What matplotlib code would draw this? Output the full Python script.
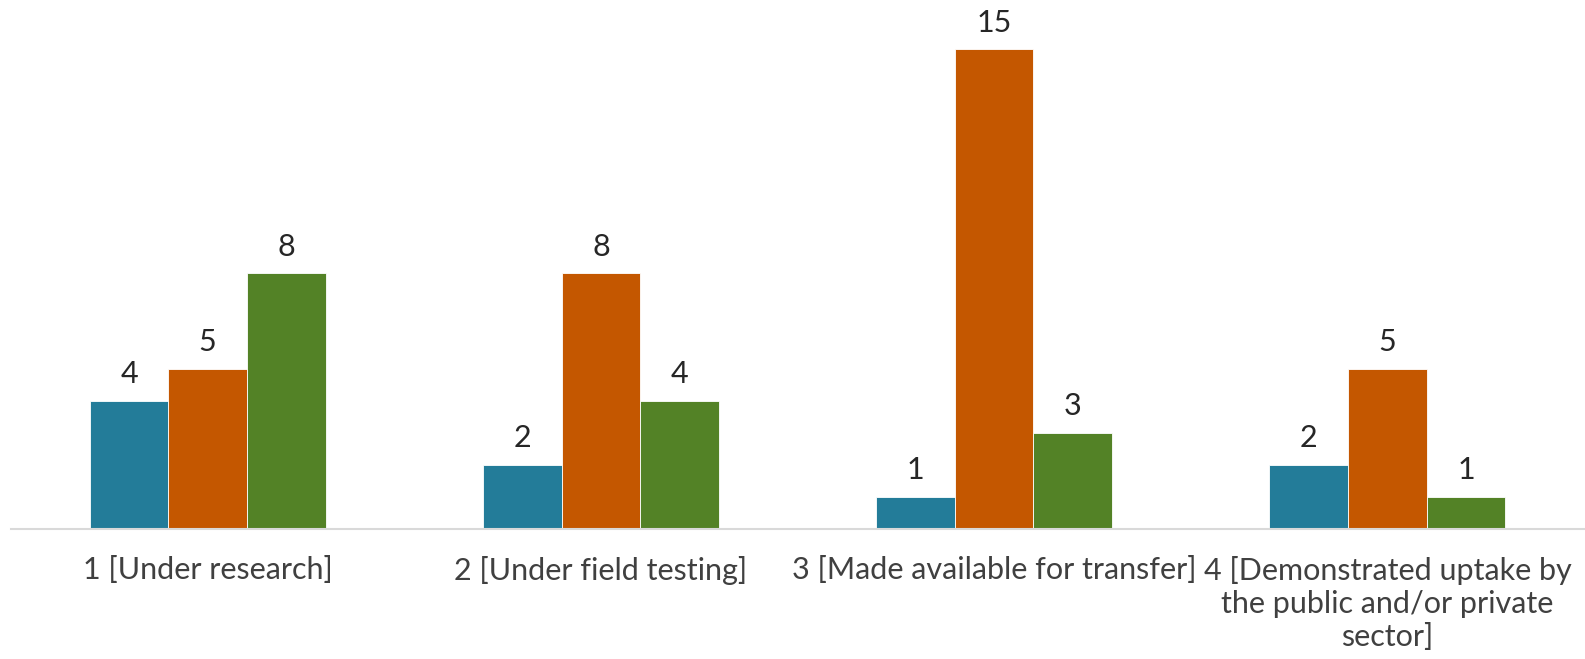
import matplotlib
matplotlib.use("Agg")
import matplotlib.pyplot as plt
import numpy as np

categories = ["1 [Under research]", "2 [Under field testing]",
              "3 [Made available for transfer]",
              "4 [Demonstrated uptake by\nthe public and/or private\nsector]"]
series_a = [4, 2, 1, 2]
series_b = [5, 8, 15, 5]
series_c = [8, 4, 3, 1]
colors = ["#237C99", "#C45700", "#538226"]

plt.rcParams['font.family'] = ['Lato', 'DejaVu Sans']

W, H = 1585, 659
fig = plt.figure(figsize=(W / 100, H / 100), dpi=100)
base_px = 528.7
ax = fig.add_axes([11 / W, 1 - base_px / H, (1584 - 11) / W, base_px / H])

x = np.arange(len(categories))
bw = 0.2
for i, (vals, c) in enumerate(zip([series_a, series_b, series_c], colors)):
    bars = ax.bar(x + (i - 1) * bw, vals, width=bw, color=c,
                  edgecolor="white", linewidth=0.6, zorder=2)
    for b, v in zip(bars, vals):
        ax.annotate(str(v), (b.get_x() + b.get_width() / 2, v),
                    xytext=(0, 9), textcoords="offset points",
                    ha="center", va="bottom", fontsize=22, color="#262626")

px_per_unit = (base_px - 49.5) / 15
ax.set_ylim(0, base_px / px_per_unit)
ax.set_xlim(-0.5, len(categories) - 0.5)
ax.set_xticks(x)
ax.set_xticklabels(categories, fontsize=22, color="#404040", linespacing=1.2)
ax.tick_params(axis="x", length=0, pad=20)
ax.set_yticks([])
for s in ["top", "right", "left"]:
    ax.spines[s].set_visible(False)
ax.spines["bottom"].set_color("#D9D9D9")
ax.spines["bottom"].set_linewidth(1.5)
ax.patch.set_alpha(0)

fig.savefig("out.png", dpi=100)
